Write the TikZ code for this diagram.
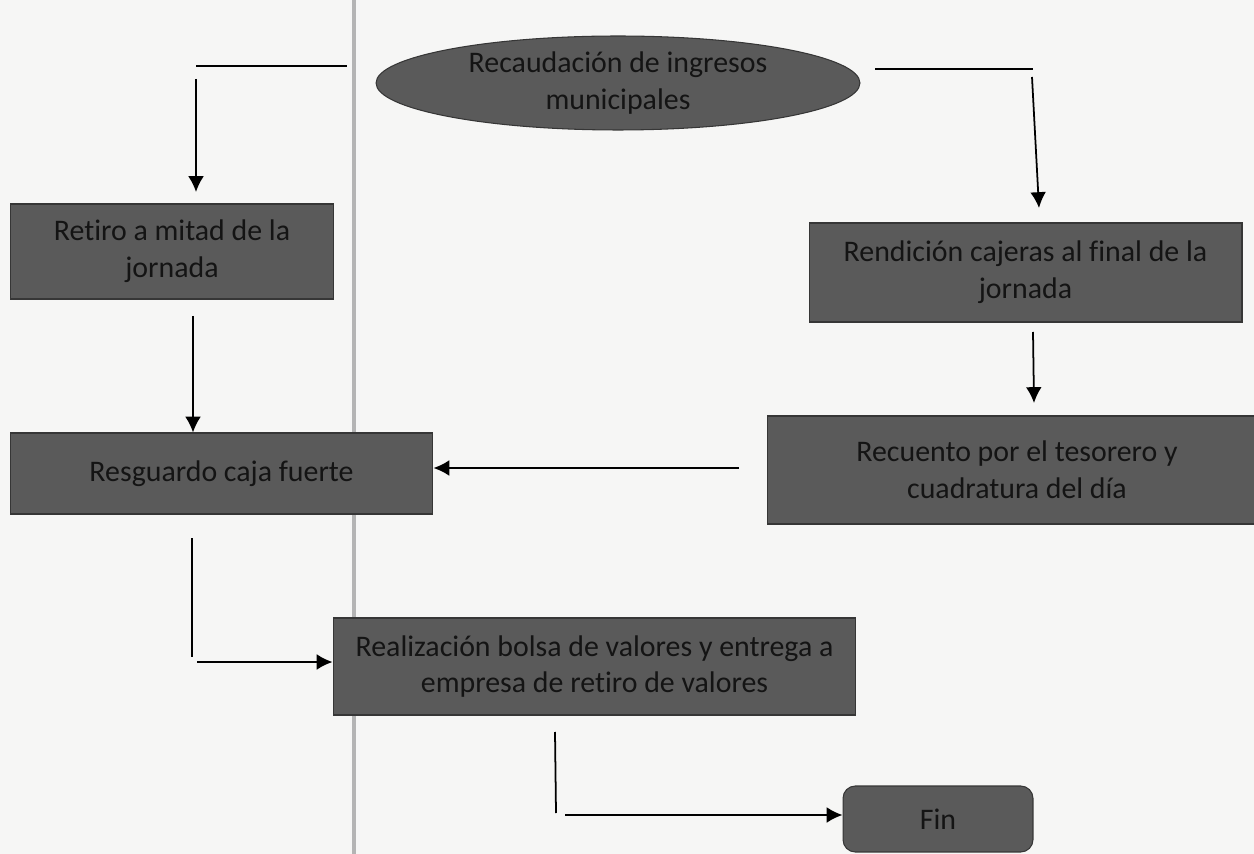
\documentclass[tikz,border=0pt]{standalone}
\usepackage{fontspec}
\setmainfont{Carlito}[Ligatures=NoCommon]
\usepackage{tikz}
\usetikzlibrary{arrows.meta,positioning,shapes.geometric}
\definecolor{paper}{HTML}{F6F6F5}
\definecolor{boxfill}{HTML}{5A5A5A}
\definecolor{boxline}{HTML}{363636}
\definecolor{ink}{HTML}{141414}
\definecolor{rule}{HTML}{B4B4B4}
\begin{document}
\begin{tikzpicture}[x=0.02cm,y=-0.02cm,>={Latex[length=9pt,width=9pt]},
 stepbox/.style={draw=boxline,line width=0.6pt,fill=boxfill,text=ink,align=center,inner sep=0pt,font=\fontsize{17}{21}\selectfont},
 ovalbox/.style={stepbox,ellipse},
 flow/.style={->,line width=1pt,color=black},
 seg/.style={line width=1pt,color=black}]
 \fill[paper] (0,0) rectangle (1254,854);
 \useasboundingbox (0,0) rectangle (1254,854);
 \clip (0,0) rectangle (1254,854);
 \draw[rule,line width=1.8pt] (354,0) -- (354,854);
 \node[ovalbox,minimum width=9.68cm,minimum height=1.88cm] (rec) at (618,83) {Recaudación de ingresos\\municipales};
 \node[stepbox,minimum width=6.48cm,minimum height=1.9cm] (ret) at (172,251.5) {Retiro a mitad de la\\jornada};
 \node[stepbox,minimum width=8.46cm,minimum height=1.62cm] (res) at (221.5,473.5) {Resguardo caja fuerte};
 \node[stepbox,minimum width=8.66cm,minimum height=1.98cm] (ren) at (1025.5,272.5) {Rendición cajeras al final de la\\jornada};
 \node[stepbox,minimum width=10cm,minimum height=2.16cm] (cue) at (1017,470) {Recuento por el tesorero y\\cuadratura del día};
 \node[stepbox,minimum width=10.46cm,minimum height=1.94cm] (rea) at (594.5,666.5) {Realización bolsa de valores y entrega a\\empresa de retiro de valores};
 \node[stepbox,rounded corners=7pt,minimum width=3.8cm,minimum height=1.32cm] (fin) at (938,819) {Fin};
 \coordinate (a1) at (196,66); \coordinate (a2) at (347,66);
 \coordinate (a3) at (196,79); \coordinate (a4) at (196,192);
 \coordinate (b1) at (193,316);
 \coordinate (c1) at (192,538); \coordinate (c2) at (192,657); \coordinate (c3) at (197,662);
 \coordinate (d1) at (555,732); \coordinate (d2) at (556,813); \coordinate (d3) at (565,815);
 \coordinate (e1) at (875,69); \coordinate (e2) at (1033,69);
 \coordinate (e3) at (1032,77); \coordinate (e4) at (1039,208);
 \coordinate (f1) at (1033,332); \coordinate (f2) at (1034,403);
 \coordinate (g1) at (739,468);
 \draw[seg] (a1) -- (a2);
 \draw[flow] (a3) -- (a4);
 \draw[flow] (b1) -- (b1 |- res.north);
 \draw[seg] (c1) -- (c2);
 \draw[flow] (c3) -- (rea.west |- c3);
 \draw[seg] (d1) -- (d2);
 \draw[flow] (d3) -- (fin.west |- d3);
 \draw[seg] (e1) -- (e2);
 \draw[flow] (e3) -- (e4);
 \draw[flow] (f1) -- (f2);
 \draw[flow] (g1) -- (res.east |- g1);
\end{tikzpicture}
\end{document}
